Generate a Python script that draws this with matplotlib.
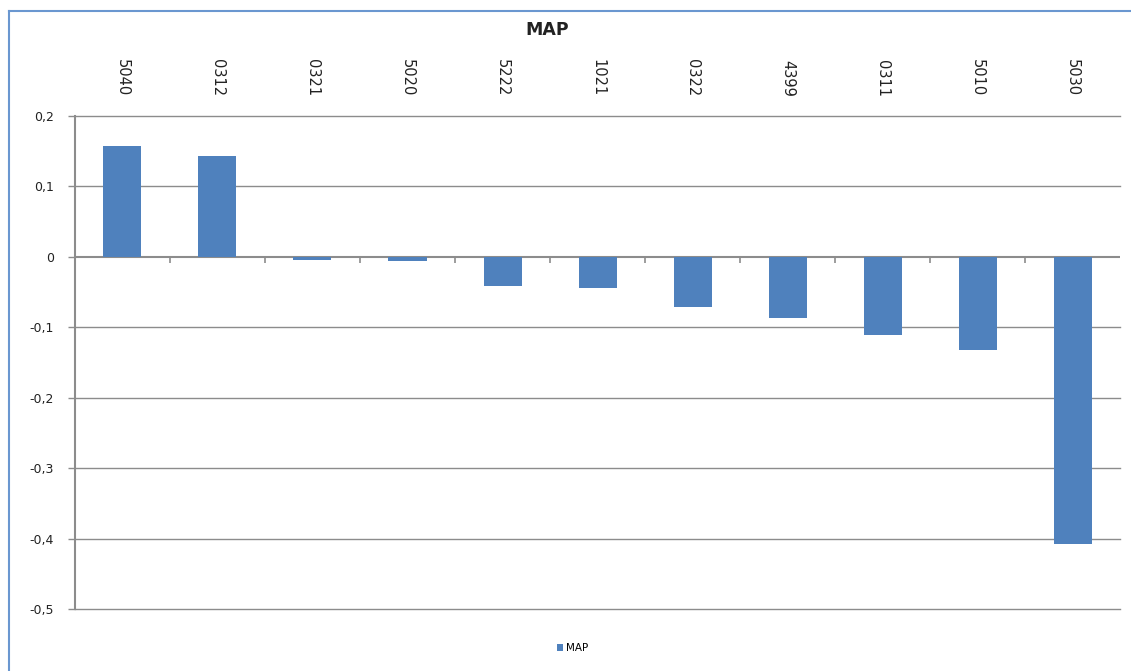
import numpy as np
import matplotlib.pyplot as plt
from matplotlib.lines import Line2D

# Chart data
categories = ['5040', '0312', '0321', '5020', '5222', '1021', '0322', '4399', '0311', '5010', '5030']
map_values = [0.158, 0.143, -0.004, -0.006, -0.041, -0.044, -0.071, -0.087, -0.111, -0.132, -0.408]
y_ticks = [0.2, 0.1, 0.0, -0.1, -0.2, -0.3, -0.4, -0.5]
y_tick_labels = ['0,2', '0,1', '0', '-0,1', '-0,2', '-0,3', '-0,4', '-0,5']

bar_color = '#4F81BD'
grid_color = '#8C8C8C'

fig = plt.figure(figsize=(11.31, 6.71), dpi=100)
ax = fig.add_axes([0.0663, 0.0924, 0.924, 0.7347])

x = np.arange(len(categories))
ax.bar(x, map_values, width=0.4, color=bar_color, label='MAP', zorder=3)

ax.set_xlim(-0.5, len(categories) - 0.5)
ax.set_ylim(-0.5, 0.2)

# y axis
ax.set_yticks(y_ticks)
ax.set_yticklabels(y_tick_labels, fontsize=9, color='#222222')
ax.tick_params(axis='y', length=5, width=1, color=grid_color, pad=10)
for yv in y_ticks:
    if yv != 0:
        ax.axhline(yv, color=grid_color, linewidth=1, zorder=1, clip_on=False)

# category labels on top, rotated
ax.xaxis.tick_top()
ax.set_xticks(x)
ax.set_xticklabels(categories, rotation=270, fontsize=10.5, color='#222222')
ax.tick_params(axis='x', length=0, pad=14)

# zero line with category boundary ticks
ax.axhline(0, color=grid_color, linewidth=1.5, zorder=2)
bounds = np.arange(len(categories) + 1) - 0.5
ax.vlines(bounds[1:-1], -0.0085, 0, color=grid_color, linewidth=1.2, zorder=2)

for side in ['top', 'right', 'bottom']:
    ax.spines[side].set_visible(False)
ax.spines['left'].set_color(grid_color)
ax.spines['left'].set_linewidth(1.5)

fig.text(0.4836, 0.955, 'MAP', ha='center', va='center', fontsize=12.5, fontweight='bold', color='#222222')

ax.legend(loc='upper center', bbox_to_anchor=(0.476, -0.05), frameon=False, fontsize=7.5,
          handlelength=0.6, handleheight=0.6, handletextpad=0.3)

# outer chart border (left and top)
fig.add_artist(Line2D([9 / 1131, 9 / 1131], [0, 1 - 11 / 671], transform=fig.transFigure, color='#6A97D0', linewidth=1.5))
fig.add_artist(Line2D([9 / 1131, 1], [1 - 11 / 671, 1 - 11 / 671], transform=fig.transFigure, color='#6A97D0', linewidth=1.5))

fig.savefig('out.png', dpi=100)
